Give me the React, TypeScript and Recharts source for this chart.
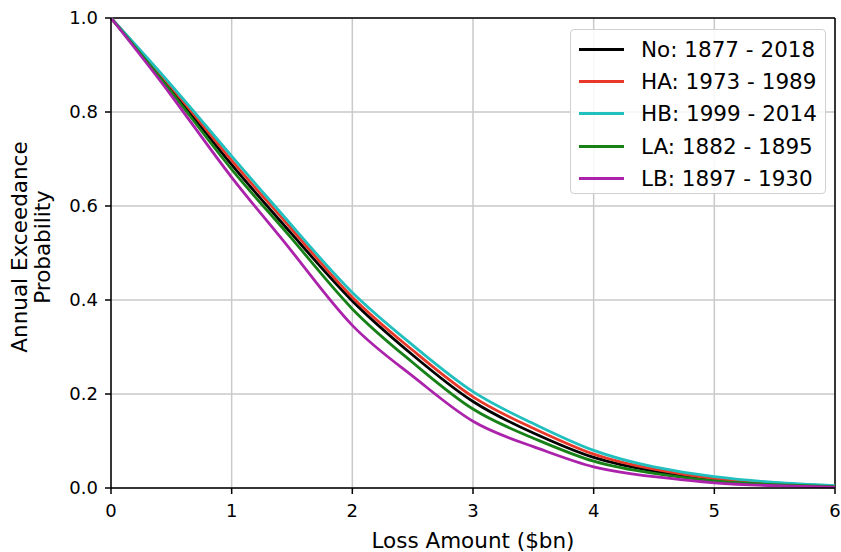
import React from "react";
import {
  LineChart, Line, XAxis, YAxis, CartesianGrid, Legend, ReferenceLine, Label,
} from "recharts";

// loss amount ($bn) sample points
const LOSS = [0, 0.5, 1, 1.5, 2, 2.5, 3, 3.5, 4, 4.5, 5, 5.5, 6];

// annual exceedance probability per period
const NO_ALL = [1.0, 0.848, 0.688, 0.54, 0.398, 0.283, 0.184, 0.117, 0.065, 0.036, 0.018, 0.009, 0.003];
const HA = [1.0, 0.853, 0.697, 0.55, 0.406, 0.293, 0.194, 0.127, 0.072, 0.04, 0.02, 0.01, 0.004];
const HB = [1.0, 0.857, 0.706, 0.558, 0.416, 0.304, 0.205, 0.137, 0.08, 0.045, 0.024, 0.012, 0.005];
const LA = [1.0, 0.843, 0.678, 0.53, 0.381, 0.267, 0.168, 0.106, 0.057, 0.031, 0.015, 0.007, 0.003];
const LB = [1.0, 0.835, 0.661, 0.503, 0.346, 0.238, 0.142, 0.088, 0.045, 0.024, 0.011, 0.005, 0.002];

const X_TICKS = [0, 1, 2, 3, 4, 5, 6];
const Y_TICKS = [0, 0.2, 0.4, 0.6, 0.8, 1.0];

const SERIES = [
  { key: "no", name: "No: 1877 - 2018", color: "#000000", values: NO_ALL },
  { key: "ha", name: "HA: 1973 - 1989", color: "#e8382a", values: HA },
  { key: "hb", name: "HB: 1999 - 2014", color: "#22bfbf", values: HB },
  { key: "la", name: "LA: 1882 - 1895", color: "#178017", values: LA },
  { key: "lb", name: "LB: 1897 - 1930", color: "#ab22ab", values: LB },
];

const rows = LOSS.map((x, i) => {
  const r: Record<string, number> = { loss: x };
  SERIES.forEach((s) => { r[s.key] = s.values[i]; });
  return r;
});

const FONT = "DejaVu Sans, sans-serif";

// legend keeps plotting order, recharts sorts its payload by name
function LegendBox() {
  return (
    <div
      style={{
        width: 256, height: 165, boxSizing: "border-box",
        border: "1px solid #d0d0d0", borderRadius: 4, background: "rgba(255,255,255,0.85)",
        fontFamily: FONT, fontSize: 21.5, color: "#000", paddingTop: 3,
      }}
    >
      {SERIES.map((s) => (
        <div key={s.key} style={{ display: "flex", alignItems: "center", height: 32.3 }}>
          <span style={{ display: "inline-block", width: 45, height: 3, background: s.color, marginLeft: 8, marginRight: 17 }} />
          <span style={{ whiteSpace: "nowrap" }}>{s.name}</span>
        </div>
      ))}
    </div>
  );
}

function YTitle() {
  const cy = 247;
  return (
    <g fontFamily={FONT} fontSize={21.5} fill="#000" textAnchor="middle">
      <text x={27} y={cy} transform={`rotate(-90, 27, ${cy})`}>Annual Exceedance</text>
      <text x={50} y={cy} transform={`rotate(-90, 50, ${cy})`}>Probability</text>
    </g>
  );
}

function XTitle({ viewBox }: any) {
  const vb = viewBox || { x: 111, y: 488, width: 724 };
  return (
    <text x={vb.x + vb.width / 2} y={vb.y + 60} fontFamily={FONT} fontSize={21.5} fill="#000" textAnchor="middle">
      Loss Amount ($bn)
    </text>
  );
}

export default function App() {
  return (
    <div style={{ position: "absolute", left: 0, top: 0, background: "#fff" }}>
      <LineChart width={841} height={552} data={rows} margin={{ top: 18, right: 6, left: 0, bottom: 0 }}>
        <CartesianGrid stroke="#c9c9c9" strokeWidth={1.5} />
        <XAxis
          dataKey="loss"
          type="number"
          domain={[0, 6]}
          ticks={X_TICKS}
          height={64}
          tick={{ fontSize: 18, fill: "#000", fontFamily: FONT }}
          tickSize={6}
          tickMargin={10}
          stroke="#000"
          strokeWidth={1.5}
          tickLine={{ stroke: "#000", strokeWidth: 1.5 }}
        >
          <Label content={<XTitle />} />
        </XAxis>
        <YAxis
          type="number"
          domain={[0, 1]}
          ticks={Y_TICKS}
          width={111}
          tickFormatter={(v: number) => v.toFixed(1)}
          tick={{ fontSize: 18, fill: "#000", fontFamily: FONT }}
          tickSize={6}
          tickMargin={7}
          stroke="#000"
          strokeWidth={1.5}
          tickLine={{ stroke: "#000", strokeWidth: 1.5 }}
        >
          <Label content={<YTitle />} />
        </YAxis>
        <ReferenceLine y={1} stroke="#000" strokeWidth={1.5} />
        <ReferenceLine x={6} stroke="#000" strokeWidth={1.5} />
        {SERIES.map((s) => (
          <Line
            key={s.key}
            dataKey={s.key}
            name={s.name}
            type="natural"
            stroke={s.color}
            strokeWidth={2.8}
            dot={false}
            isAnimationActive={false}
          />
        ))}
        <Legend
          layout="horizontal"
          verticalAlign="middle"
          align="center"
          content={<LegendBox />}
          wrapperStyle={{ position: "absolute", left: 570, top: 29, width: 256, height: 165 }}
        />
      </LineChart>
    </div>
  );
}
